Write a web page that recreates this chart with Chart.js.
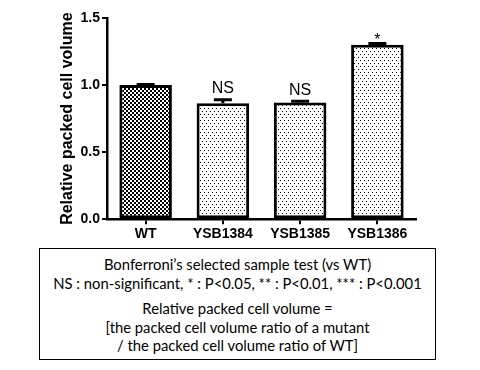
<!DOCTYPE html>
<html>
<head>
<meta charset="utf-8">
<script src="https://cdn.jsdelivr.net/npm/chart.js@4"></script>
<style>
  body { margin: 0; background: #fff; }
  #wrap { position: absolute; left: 0; top: 0; width: 480px; height: 245px; }
  .note {
    position: absolute; left: 39px; top: 248px; width: 397px; height: 112px;
    border: 1.5px solid #000; box-sizing: border-box;
    font-family: "Lato", "Open Sans", sans-serif; font-size: 14.8px; color: #000;
    text-align: center; line-height: 18.5px; padding-top: 6px;
  }
  .note p { margin: 0; }
  .note .gap { margin-top: 7px; }
</style>
</head>
<body>
<div id="wrap"><canvas id="chart"></canvas></div>
<div class="note">
  <p>Bonferroni’s selected sample test (vs WT)</p>
  <p>NS : non-significant, * : P&lt;0.05, ** : P&lt;0.01, *** : P&lt;0.001</p>
  <p class="gap">Relative packed cell volume =</p>
  <p>[the packed cell volume ratio of a mutant</p>
  <p>/ the packed cell volume ratio of WT]</p>
</div>
<script>
const strains = ["WT", "YSB1384", "YSB1385", "YSB1386"];
const relVolume = [1.0, 0.865, 0.87, 1.30];
const errUp = [0.005, 0.025, 0.01, 0.01];
const signif = ["", "NS", "NS", "*"];
const yTicks = [0, 0.5, 1.0, 1.5];

// fill patterns
function checker() {
  const c = document.createElement("canvas");
  c.width = 4; c.height = 4;
  const g = c.getContext("2d");
  g.fillStyle = "#fff"; g.fillRect(0, 0, 4, 4);
  g.fillStyle = "#000"; g.fillRect(0, 0, 2, 2); g.fillRect(2, 2, 2, 2);
  return g.createPattern(c, "repeat");
}
function dots() {
  const c = document.createElement("canvas");
  c.width = 4; c.height = 6;
  const g = c.getContext("2d");
  g.fillStyle = "#fff"; g.fillRect(0, 0, 4, 6);
  g.fillStyle = "#000"; g.fillRect(0, 0, 1, 1); g.fillRect(2, 3, 1, 1);
  return g.createPattern(c, "repeat");
}
const fills = strains.map((s, i) => i === 0 ? checker() : dots());

// error bars + significance labels
const errorBars = {
  id: "errorBars",
  afterDatasetsDraw(chart) {
    const ctx = chart.ctx;
    const meta = chart.getDatasetMeta(0);
    const y = chart.scales.y;
    ctx.save();
    meta.data.forEach((bar, i) => {
      const top = y.getPixelForValue(relVolume[i] + errUp[i]);
      const base = y.getPixelForValue(relVolume[i]);
      ctx.strokeStyle = "#000";
      ctx.lineWidth = 3;
      ctx.beginPath();
      ctx.moveTo(bar.x, base); ctx.lineTo(bar.x, top);
      ctx.moveTo(bar.x - 9, top); ctx.lineTo(bar.x + 9, top);
      ctx.stroke();
      if (signif[i]) {
        ctx.fillStyle = "#000";
        ctx.font = "16px 'Liberation Sans', Arial, sans-serif";
        ctx.textAlign = "center";
        ctx.textBaseline = "bottom";
        ctx.fillText(signif[i], bar.x, top + (signif[i] === "*" ? 5 : -3));
      }
    });
    ctx.restore();
  }
};

new Chart(document.getElementById("chart"), {
  type: "bar",
  data: {
    labels: strains,
    datasets: [{
      data: relVolume,
      backgroundColor: fills,
      borderColor: "#000",
      borderWidth: 3,
      borderSkipped: false,
      categoryPercentage: 1,
      barPercentage: 0.68
    }]
  },
  options: {
    responsive: true,
    maintainAspectRatio: false,
    animation: false,
    layout: { padding: { top: 18, right: 64, left: 58, bottom: 0 } },
    plugins: { legend: { display: false }, tooltip: { enabled: false } },
    scales: {
      x: {
        grid: { offset: false, drawOnChartArea: false, color: "#000", lineWidth: 2, tickLength: 5 },
        border: { color: "#000", width: 2.5 },
        ticks: { color: "#000", padding: 2, font: { family: "'Liberation Sans', Arial", size: 14, weight: "bold" } }
      },
      y: {
        min: 0, max: 1.5,
        afterBuildTicks(scale) { scale.ticks = yTicks.map(v => ({ value: v })); },
        afterFit(scale) { scale.width = 49; },
        grid: { drawOnChartArea: false, color: "#000", lineWidth: 2, tickLength: 5 },
        border: { color: "#000", width: 2.5 },
        ticks: {
          color: "#000", padding: 2,
          font: { family: "'Liberation Sans', Arial", size: 14, weight: "bold" },
          callback: v => v.toFixed(1)
        },
        title: {
          display: true, text: "Relative packed cell volume", color: "#000", padding: 0,
          font: { family: "'Liberation Sans', Arial", size: 16, weight: "bold" }
        }
      }
    }
  },
  plugins: [errorBars]
});
</script>
</body>
</html>
